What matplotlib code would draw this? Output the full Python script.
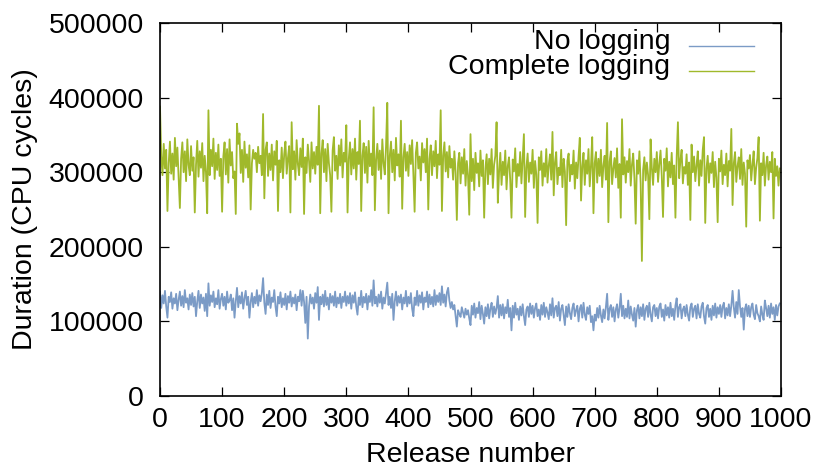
import numpy as np
import matplotlib
matplotlib.use("Agg")
import matplotlib.pyplot as plt

plt.rcParams['font.family'] = ['Liberation Sans', 'DejaVu Sans']

# Values in thousands of CPU cycles, one value every 2 releases
release_step = 2

no_logging_k = [
    140,118,135,124,141,120,105,133,126,139,117,131,124,137,115,129,140,121,134,119,142,125,131,116,136,
    122,138,120,133,107,127,141,118,136,124,132,114,137,107,151,121,135,126,140,119,131,123,142,117,130,
    137,121,133,116,140,125,128,136,115,131,105,127,145,119,134,124,139,117,131,141,122,133,105,126,138,
    119,133,124,142,121,135,127,138,158,125,110,136,122,141,118,132,126,142,120,107,133,124,139,119,131,
    122,137,116,134,125,140,120,132,124,136,115,133,127,142,121,141,126,98,133,77,120,136,124,132,117,
    138,125,146,102,133,123,136,120,141,122,132,116,137,125,134,121,140,119,132,124,137,118,133,126,140,
    121,134,124,138,117,135,125,139,120,109,132,122,141,119,133,125,137,116,134,126,142,121,155,124,133,
    120,136,125,140,117,132,124,138,152,122,133,118,137,102,127,140,121,134,125,136,116,132,124,141,120,
    133,124,138,117,107,132,122,141,121,135,125,139,116,132,126,140,119,136,123,133,120,142,122,135,126,
    138,122,147,125,136,120,139,145,128,118,126,116,122,108,93,115,110,106,119,112,105,117,109,115,104,
    95,121,109,124,105,118,111,126,103,121,110,97,119,107,123,104,117,125,106,120,110,118,134,105,122,
    108,123,104,119,111,129,106,118,88,121,105,125,109,117,102,120,108,123,107,95,116,120,106,124,110,
    121,105,118,124,107,116,102,122,109,125,106,119,112,103,123,108,131,105,118,121,107,126,101,117,122,
    108,95,120,106,123,111,103,118,124,107,115,121,100,117,122,105,125,109,102,119,110,121,99,107,88,
    109,101,118,105,121,108,99,116,104,119,137,102,117,122,106,119,100,116,123,105,118,137,107,121,104,
    117,106,128,104,120,109,101,118,93,115,122,104,119,107,123,102,117,121,106,125,109,100,119,122,107,
    118,104,120,124,106,116,101,122,108,119,105,125,107,117,102,121,131,106,119,123,104,116,120,107,122,
    109,101,119,124,106,117,121,104,123,110,105,120,125,107,97,118,122,106,117,102,121,108,124,105,119,
    110,122,106,120,125,104,118,108,123,107,121,141,119,105,126,110,142,120,106,118,89,117,123,107,121,
    106,119,124,109,103,122,111,107,100,120,109,102,128,118,107,121,105,124,110,119,102,122,108,120,124,
]

complete_logging_k = [
    388,322,296,338,305,330,248,312,341,298,325,290,346,308,333,292,252,318,340,300,328,288,344,310,296,
    335,302,320,246,310,342,294,328,306,339,288,322,300,245,383,296,330,308,345,291,326,303,337,295,318,
    247,321,340,297,331,286,344,309,327,292,301,244,365,338,352,299,330,287,341,306,324,293,336,250,312,
    330,318,326,300,334,312,322,296,378,265,330,340,295,325,303,337,289,328,310,342,248,316,300,333,292,
    324,341,298,319,335,246,367,304,328,290,343,311,296,332,307,345,244,320,299,337,315,287,340,305,327,
    298,334,310,389,245,325,343,300,331,288,338,312,296,247,329,347,302,322,291,336,309,344,293,326,314,
    363,246,318,340,297,331,305,345,290,327,311,369,248,322,339,299,334,286,342,308,325,296,387,249,317,
    338,303,329,291,344,312,297,335,393,245,322,341,300,330,289,346,309,324,294,369,251,320,338,302,327,
    295,336,311,343,298,247,326,340,305,321,289,339,313,331,300,345,250,318,336,296,328,308,342,292,324,
    310,383,248,322,340,301,327,293,335,306,318,290,328,300,236,312,326,285,320,298,331,282,315,296,243,
    351,288,318,276,326,299,312,281,329,295,316,239,305,324,284,318,297,331,279,310,322,367,259,300,326,
    283,314,296,329,277,308,320,289,239,317,301,332,280,311,295,327,285,318,351,240,306,325,287,313,298,
    330,279,315,297,232,320,303,328,282,312,294,331,286,309,324,290,354,269,313,327,284,306,296,330,280,
    318,301,229,315,325,288,310,297,329,278,313,292,321,346,262,308,326,283,316,298,331,281,309,347,245,
    312,327,286,318,295,330,280,309,322,290,366,233,314,328,284,305,319,293,332,279,311,239,371,297,320,
    286,315,300,331,282,310,325,291,231,316,298,328,285,181,303,320,289,313,296,237,344,306,283,318,300,
    327,287,311,329,295,240,318,302,332,281,314,293,326,284,309,239,320,367,292,316,330,285,307,298,324,
    283,313,236,337,300,321,288,309,328,282,316,295,330,347,232,305,322,286,312,299,327,280,314,293,233,
    318,301,329,284,310,296,325,281,315,302,358,256,312,327,287,308,320,291,331,283,313,298,227,316,305,
    323,289,310,328,284,306,319,347,235,312,296,326,282,309,321,290,314,300,327,238,318,295,308,282,305,
]

series_labels = ["No logging", "Complete logging"]
series_colors = ["#7b9bc6", "#a0b92b"]
x_ticks = list(range(0, 1001, 100))
y_ticks = list(range(0, 500001, 100000))

FS = 20.5

fig = plt.figure(figsize=(8.18, 4.67), dpi=100)
ax = fig.add_axes([160/818, 1-396/467, (781-160)/818, (396-23)/467])

for vals, color in zip([no_logging_k, complete_logging_k], series_colors):
    y = np.array(vals, dtype=float) * 1000
    x = np.arange(len(y)) * release_step
    ax.plot(x, y, color=color, lw=1.3)

ax.set_xlim(0, 1000)
ax.set_ylim(0, 500000)
ax.set_xticks(x_ticks)
ax.set_yticks(y_ticks)
ax.set_xticklabels([str(t) for t in x_ticks])
ax.set_yticklabels([str(t) for t in y_ticks])
ax.tick_params(direction='in', length=6.5, width=0.9, top=True, right=True,
               labelsize=FS, colors='black')
ax.tick_params(axis='x', pad=8.0)
ax.tick_params(axis='y', pad=11.5)
for s in ax.spines.values():
    s.set_linewidth(1.2)
    s.set_color('black')

ax.set_xlabel("Release number", fontsize=FS)
ax.xaxis.set_label_coords((470-160)/621, (396-442)/373)
ax.xaxis.label.set_va('top')
ax.set_ylabel("Duration (CPU cycles)", fontsize=FS)
ax.yaxis.set_label_coords((38-160)/621, 0.5)

# legend (gnuplot style: right-aligned text, sample on the right)
leg_text_x = (670-160)/621
leg_line_x = [(689-160)/621, (754-160)/621]
for lab, color, ty, ly in zip(series_labels, series_colors,
                              [(396-49.3)/373, (396-74.3)/373],
                              [(396-45.7)/373, (396-70.7)/373]):
    ax.text(leg_text_x, ty, lab, transform=ax.transAxes, ha='right',
            va='baseline', fontsize=FS)
    ax.plot(leg_line_x, [ly, ly], transform=ax.transAxes, color=color, lw=1.0)

fig.savefig("out.png", dpi=100)
